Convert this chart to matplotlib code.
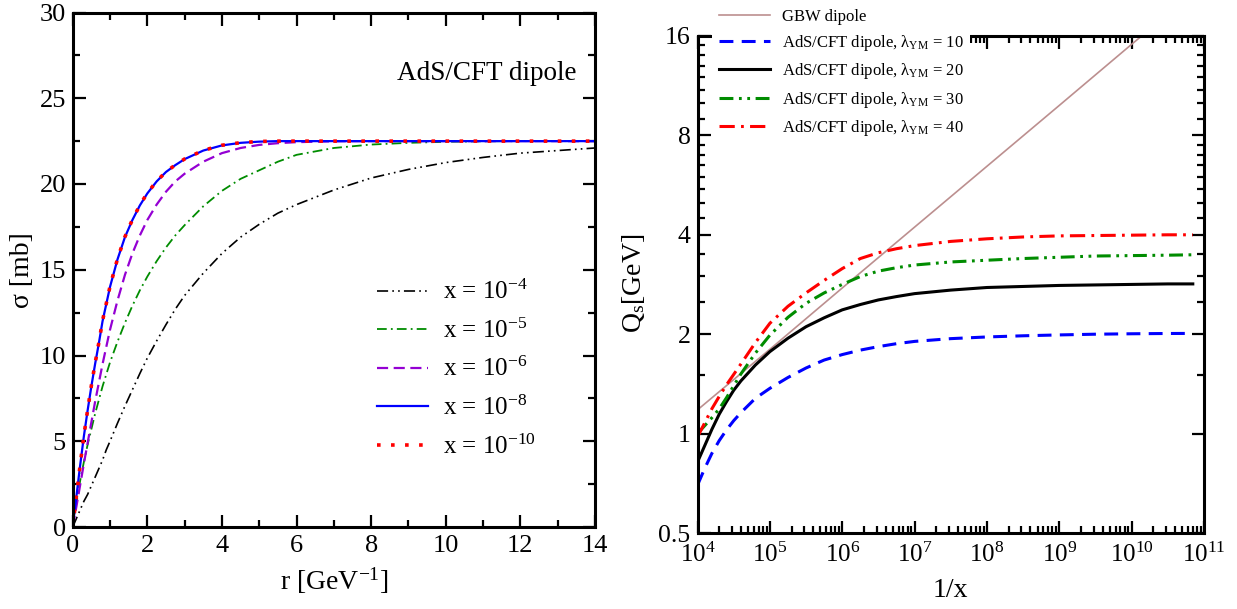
import matplotlib
matplotlib.use("Agg")
import matplotlib.pyplot as plt
from matplotlib.ticker import MultipleLocator, FixedLocator, FixedFormatter, LogLocator, NullFormatter, LogFormatterMathtext

plt.rcParams['font.family'] = ['Liberation Serif', 'DejaVu Serif']
plt.rcParams['mathtext.fontset'] = 'custom'
plt.rcParams['mathtext.rm'] = 'Liberation Serif'
plt.rcParams['mathtext.it'] = 'Liberation Serif:italic'
plt.rcParams['mathtext.bf'] = 'Liberation Serif:bold'
plt.rcParams['lines.scale_dashes'] = False

# dipole cross section sigma(r) for several x
r_vals = [0, 0.1, 0.2, 0.3, 0.4, 0.5, 0.6, 0.7, 0.8, 0.9, 1.0, 1.2, 1.4, 1.6, 1.8, 2.0,
          2.25, 2.5, 2.75, 3.0, 3.5, 4.0, 4.5, 5.0, 5.5, 6.0, 7.0, 8.0, 9.0, 10.0, 11.0,
          12.0, 13.0, 14.0]
sigma_x4 = [0, 0.5, 1.0, 1.5, 1.9, 2.4, 2.9, 3.4, 3.9, 4.5, 5.0, 6.05, 7.05, 8.0, 8.95, 9.85,
            10.85, 11.8, 12.7, 13.5, 14.8, 15.95, 16.9, 17.65, 18.3, 18.8, 19.65, 20.35, 20.85,
            21.25, 21.55, 21.8, 21.95, 22.1]
sigma_x5 = [0, 1.4, 2.7, 3.8, 4.8, 5.7, 6.6, 7.4, 8.2, 8.9, 9.6, 10.8, 11.9, 12.9, 13.8, 14.6,
            15.5, 16.3, 17.0, 17.6, 18.7, 19.6, 20.3, 20.8, 21.3, 21.7, 22.1, 22.3, 22.4,
            22.46, 22.49, 22.5, 22.5, 22.5]
sigma_x6 = [0, 1.2, 2.45, 3.7, 4.9, 6.1, 7.3, 8.4, 9.5, 10.5, 11.5, 13.2, 14.7, 15.95, 17.0, 17.9,
            18.8, 19.55, 20.15, 20.6, 21.3, 21.8, 22.1, 22.28, 22.38, 22.44, 22.49, 22.5, 22.5,
            22.5, 22.5, 22.5, 22.5, 22.5]
sigma_x8 = [0, 1.8, 3.6, 5.3, 6.8, 8.2, 9.5, 10.7, 12.0, 13.0, 14.0, 15.6, 16.9, 17.9, 18.75, 19.45,
            20.15, 20.7, 21.1, 21.45, 21.95, 22.25, 22.4, 22.47, 22.5, 22.5, 22.5, 22.5, 22.5,
            22.5, 22.5, 22.5, 22.5, 22.5]
sigma_x10 = [0, 1.82, 3.63, 5.33, 6.83, 8.24, 9.54, 10.74, 12.03, 13.03, 14.03, 15.63, 16.92, 17.92,
             18.77, 19.47, 20.16, 20.71, 21.11, 21.46, 21.96, 22.26, 22.41, 22.48, 22.5, 22.5,
             22.5, 22.5, 22.5, 22.5, 22.5, 22.5, 22.5, 22.5]

# saturation scale Q_s versus 1/x
inv_x = [1e4, 1.26e4, 1.58e4, 2e4, 2.51e4, 3.16e4, 3.98e4, 6.31e4, 1e5, 1.78e5, 3.16e5, 5.62e5,
         1e6, 1.78e6, 3.16e6, 5.62e6, 1e7, 3.16e7, 1e8, 3.16e8, 1e9, 3.16e9, 1e10, 3.16e10, 7e10]
qs_lam10 = [0.698, 0.785, 0.871, 0.953, 1.025, 1.094, 1.157, 1.279, 1.371, 1.479, 1.580, 1.670,
            1.735, 1.790, 1.834, 1.872, 1.902, 1.939, 1.962, 1.978, 1.990, 2.000, 2.006, 2.010, 2.011]
qs_lam20 = [0.820, 0.920, 1.030, 1.146, 1.248, 1.352, 1.444, 1.613, 1.771, 1.945, 2.107, 2.242,
            2.370, 2.460, 2.540, 2.600, 2.654, 2.720, 2.770, 2.790, 2.810, 2.820, 2.830, 2.840, 2.840]
qs_lam30 = [1.000, 1.057, 1.117, 1.189, 1.283, 1.395, 1.516, 1.753, 1.986, 2.250, 2.480, 2.667,
            2.830, 2.990, 3.105, 3.180, 3.240, 3.310, 3.350, 3.390, 3.420, 3.450, 3.460, 3.470, 3.480]
qs_lam40 = [0.976, 1.079, 1.189, 1.297, 1.404, 1.510, 1.625, 1.886, 2.158, 2.430, 2.667, 2.910,
            3.160, 3.390, 3.530, 3.630, 3.710, 3.820, 3.890, 3.940, 3.970, 3.980, 3.990, 4.000, 4.000]

inv_x_gbw = [1e4, 1e5, 1e6, 1e7, 1e8, 1e9, 1e10, 1e11]
qs_gbw = [1.18, 1.80, 2.76, 4.22, 6.45, 9.86, 15.1, 23.0]

left_labels = [r"x = 10$^{-4}$", r"x = 10$^{-5}$", r"x = 10$^{-6}$", r"x = 10$^{-8}$", r"x = 10$^{-10}$"]
right_labels = ["GBW dipole",
                r"AdS/CFT dipole, λ$_{\mathrm{YM}}$ = 10",
                r"AdS/CFT dipole, λ$_{\mathrm{YM}}$ = 20",
                r"AdS/CFT dipole, λ$_{\mathrm{YM}}$ = 30",
                r"AdS/CFT dipole, λ$_{\mathrm{YM}}$ = 40"]

green = '#008c00'
W, H = 1237, 609
fig = plt.figure(figsize=(W / 100, H / 100), dpi=100)

def frac(x0, y0, x1, y1):
    return [x0 / W, 1 - y1 / H, (x1 - x0) / W, (y1 - y0) / H]

def style_axes(ax, size):
    for s in ax.spines.values():
        s.set_linewidth(2.2)
    ax.tick_params(which='both', direction='in', top=True, right=True, width=1.6, labelsize=size)
    ax.tick_params(which='major', length=9)
    ax.tick_params(which='minor', length=5)

# left panel
ax1 = fig.add_axes(frac(72.7, 12.5, 595, 527))
ax1.plot(r_vals, sigma_x4, color='black', lw=1.2, dashes=(8, 3, 1.2, 3, 1.2, 3), label=left_labels[0])
ax1.plot(r_vals, sigma_x5, color=green, lw=1.3, dashes=(7, 3, 1.3, 3), label=left_labels[1])
ax1.plot(r_vals, sigma_x6, color='#9400d3', lw=1.6, dashes=(8, 4), label=left_labels[2])
ax1.plot(r_vals, sigma_x8, color='#0000ff', lw=1.6, label=left_labels[3])
ax1.plot(r_vals, sigma_x10, color='#ff0000', lw=2.6, dashes=(2.6, 7.5), label=left_labels[4])
ax1.set_xlim(0, 14)
ax1.set_ylim(0, 30)
ax1.xaxis.set_major_locator(MultipleLocator(2))
ax1.xaxis.set_minor_locator(MultipleLocator(1))
ax1.yaxis.set_major_locator(MultipleLocator(5))
ax1.yaxis.set_minor_locator(MultipleLocator(2.5))
style_axes(ax1, 19)
ax1.tick_params(axis='x', pad=6)
ax1.tick_params(axis='y', pad=5)
ax1.set_xlabel(r"r [GeV$^{-1}$]", fontsize=20)
ax1.set_ylabel("σ [mb]", fontsize=20)
ax1.xaxis.set_label_coords(0.5, -0.075)
ax1.yaxis.set_label_coords(-0.073, 0.5)
ax1.text(0.9655, 0.869, "AdS/CFT dipole", transform=ax1.transAxes, ha='right', va='baseline', fontsize=19.5)
ax1.legend(loc='upper left', bbox_to_anchor=(367 / W, 1 - 270 / H), bbox_transform=fig.transFigure,
           frameon=False, fontsize=18, handlelength=2.04, handletextpad=0.6, labelspacing=0.57,
           borderpad=0.4, borderaxespad=0)

# right panel
ax2 = fig.add_axes(frac(697.5, 36, 1204, 533))
ax2.plot(inv_x_gbw, qs_gbw, color='#bc8f8f', lw=1.2, label=right_labels[0])
ax2.plot(inv_x, qs_lam10, color='#0000ff', lw=2.2, dashes=(10, 6), label=right_labels[1])
ax2.plot(inv_x, qs_lam20, color='black', lw=2.2, label=right_labels[2])
ax2.plot(inv_x, qs_lam30, color=green, lw=2.2, dashes=(10, 4, 2, 4, 2, 4), label=right_labels[3])
ax2.plot(inv_x, qs_lam40, color='#ff0000', lw=2.2, dashes=(11, 4.5, 2, 4.5), label=right_labels[4])
ax2.set_xscale('log')
ax2.set_yscale('log', base=2)
ax2.set_xlim(1e4, 1e11)
ax2.set_ylim(0.5, 16)
ax2.xaxis.set_major_locator(LogLocator(base=10, numticks=20))
ax2.xaxis.set_major_formatter(LogFormatterMathtext())
ax2.xaxis.set_minor_locator(LogLocator(base=10, subs=range(2, 10), numticks=20))
ax2.xaxis.set_minor_formatter(NullFormatter())
ax2.yaxis.set_major_locator(FixedLocator([0.5, 1, 2, 4, 8, 16]))
ax2.yaxis.set_major_formatter(FixedFormatter(['0.5', '1', '2', '4', '8', '16']))
ax2.yaxis.set_minor_locator(FixedLocator([1.5, 2.5, 3, 3.5, 4.5, 5, 5.5, 6, 6.5, 7, 7.5,
                                          9, 10, 11, 12, 13, 14, 15]))
ax2.yaxis.set_minor_formatter(NullFormatter())
style_axes(ax2, 18.5)
ax2.tick_params(axis='x', labelsize=18, pad=7)
ax2.tick_params(axis='y', pad=5)
ax2.set_xlabel("1/x", fontsize=20)
ax2.set_ylabel(r"Q$_{\mathrm{s}}$[GeV]", fontsize=20)
ax2.xaxis.set_label_coords(0.5, -0.09)
ax2.yaxis.set_label_coords(-0.1, 0.503)
leg = ax2.legend(loc='upper left', bbox_to_anchor=(712 / W, 1 - 2 / H), bbox_transform=fig.transFigure,
                 frameon=True, fontsize=12, handlelength=3.1, handletextpad=0.7, labelspacing=0.5,
                 borderpad=0.4, borderaxespad=0, fancybox=False)
leg.get_frame().set_facecolor('white')
leg.get_frame().set_edgecolor('none')
leg.get_frame().set_alpha(1)

fig.savefig("out.png", dpi=100)
